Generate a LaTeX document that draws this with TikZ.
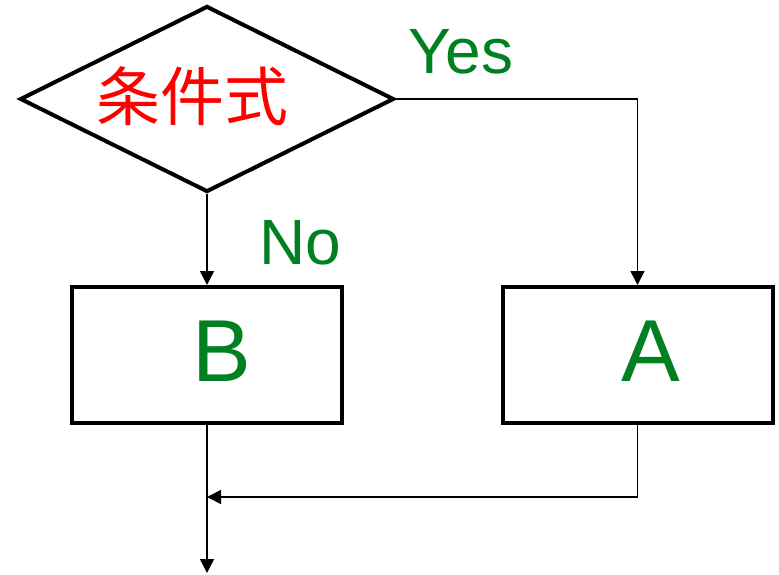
\documentclass[tikz,border=0pt]{standalone}
\usepackage{fontspec}
\setmainfont{Liberation Sans}
\newfontfamily\cjk{Noto Sans CJK JP}
\usetikzlibrary{shapes.geometric,arrows.meta}
\definecolor{lblgreen}{RGB}{0,128,32}
\definecolor{lblred}{RGB}{255,0,0}
\tikzset{
  decision/.style={diamond, draw, line width=4pt, minimum width=374pt, minimum height=186pt, inner sep=0pt, aspect=2},
  procbox/.style={rectangle, draw, line width=4pt, minimum width=270pt, minimum height=136pt, inner sep=0pt},
  conn/.style={line width=1.6pt, -{Triangle[length=14pt,width=14pt]}},
  lbl/.style={text=lblgreen, font=\fontsize{64}{64}\selectfont, inner sep=0pt, anchor=base},
  boxlbl/.style={text=lblgreen, font=\fontsize{88}{88}\selectfont, inner sep=0pt, anchor=base},
}
\begin{document}
\begin{tikzpicture}[x=1pt,y=-1pt]
\useasboundingbox (0,0) rectangle (779,574);
\node[decision] (cond) at (207,99) {};
\node[text=lblred, font=\cjk\fontsize{64}{64}\selectfont, inner sep=0pt] (condtxt) at (192,96) {条件式};
\node[procbox] (B) at (207,355) {};
\node[procbox] (A) at (637.5,355) {};
\node[boxlbl] (Btxt) at (222,381) {B};
\node[boxlbl] (Atxt) at (651,381) {A};
\node[lbl] (yes) at (461,73) {Yes};
\node[lbl] (no) at (300,264) {No};
\coordinate (join) at (B.south |- 0,497);
\coordinate (out) at (B.south |- 0,573);
\draw[conn] (cond.south) -- (B.north);
\draw[conn] (cond.east) -| (A.north);
\draw[conn] (B.south) -- (out);
\draw[conn] (A.south) |- (join);
\end{tikzpicture}
\end{document}
